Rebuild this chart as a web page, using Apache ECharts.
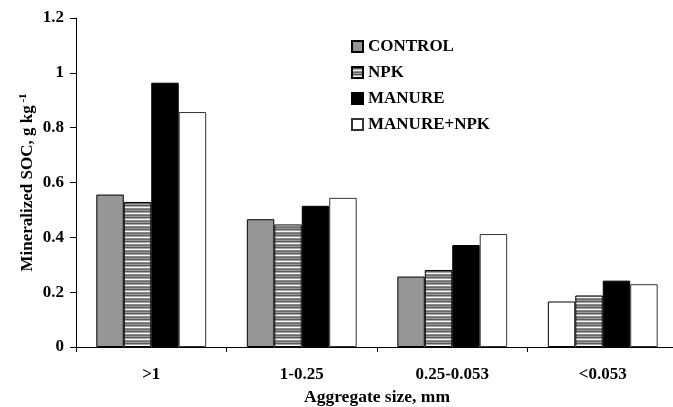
<!DOCTYPE html>
<html>
<head>
<meta charset="utf-8">
<script src="https://cdn.jsdelivr.net/npm/echarts@6/dist/echarts.min.js"></script>
<style>html,body{margin:0;padding:0;background:#fff;}#c{width:673px;height:407px;}</style>
</head>
<body>
<div id="c"></div>
<script>
var categories = ['>1', '1-0.25', '0.25-0.053', '<0.053'];
var seriesNames = ['CONTROL', 'NPK', 'MANURE', 'MANURE+NPK'];
var control = [0.556, 0.466, 0.257, 0.166];
var npk = [0.529, 0.447, 0.281, 0.188];
var manure = [0.964, 0.515, 0.372, 0.242];
var manureNpk = [0.857, 0.544, 0.412, 0.229];
var yTicks = [0, 0.2, 0.4, 0.6, 0.8, 1, 1.2];

var FONT = '"Liberation Serif", "Times New Roman", serif';

function stripePattern() {
  var c = document.createElement('canvas');
  c.width = 8; c.height = 6;
  var g = c.getContext('2d');
  var rows = ['#9a9a9a', '#5a5a5a', '#a8a8a8', '#f4f4f4', '#8a8a8a', '#6a6a6a'];
  for (var i = 0; i < rows.length; i++) { g.fillStyle = rows[i]; g.fillRect(0, i, 8, 1); }
  return { image: c, repeat: 'repeat' };
}

var controlData = control.map(function (v, i) {
  return i === 3 ? { value: v, itemStyle: { color: '#ffffff' } } : v;
});

var colors = ['#969696', stripePattern(), '#000000', '#ffffff'];
var datas = [controlData, npk, manure, manureNpk];

var chart = echarts.init(document.getElementById('c'), null, { renderer: 'canvas' });
chart.setOption({
  animation: false,
  backgroundColor: '#ffffff',
  grid: { left: 76, top: 18, width: 602, height: 329, containLabel: false, outerBoundsMode: 'none' },
  legend: {
    orient: 'vertical', left: 351, top: 38, itemGap: 9, padding: 0,
    itemWidth: 11, itemHeight: 11, icon: 'rect',
    data: seriesNames,
    textStyle: { fontFamily: FONT, fontWeight: 'bold', fontSize: 17, color: '#000' }
  },
  xAxis: {
    type: 'category', data: categories,
    axisLine: { lineStyle: { color: '#000', width: 1 } },
    axisTick: { show: true, length: 5, alignWithLabel: false, lineStyle: { color: '#000' } },
    axisLabel: { margin: 19, fontFamily: FONT, fontWeight: 'bold', fontSize: 17, color: '#000' },
    name: 'Aggregate size, mm', nameLocation: 'middle', nameGap: 41, nameMoveOverlap: false,
    nameTextStyle: { fontFamily: FONT, fontWeight: 'bold', fontSize: 17.5, color: '#000' }
  },
  yAxis: {
    type: 'value', min: 0, max: 1.2, interval: 0.2,
    splitLine: { show: false },
    axisLine: { show: true, lineStyle: { color: '#000', width: 1 } },
    axisTick: { show: true, length: 6, lineStyle: { color: '#000' } },
    axisLabel: { margin: 12, fontFamily: FONT, fontWeight: 'bold', fontSize: 17, color: '#000',
      formatter: function (v) { return String(+v.toFixed(1)); } },
    name: '{n|Mineralized SOC, g kg}{s| -1}', nameLocation: 'middle', nameGap: 39, nameRotate: 90, nameMoveOverlap: false,
    nameTextStyle: {
      fontFamily: FONT, fontWeight: 'bold', fontSize: 17, color: '#000',
      rich: {
        n: { fontFamily: FONT, fontWeight: 'bold', fontSize: 17, color: '#000' },
        s: { fontFamily: FONT, fontWeight: 'bold', fontSize: 11, color: '#000', verticalAlign: 'top', padding: [0, 0, 8, 0] }
      }
    }
  },
  series: seriesNames.map(function (n, i) {
    return {
      name: n, type: 'bar', data: datas[i],
      barGap: '0%', barCategoryGap: '27%',
      itemStyle: { color: colors[i], borderColor: i === 3 ? '#333' : '#000', borderWidth: 1 }
    };
  })
});
</script>
</body>
</html>
